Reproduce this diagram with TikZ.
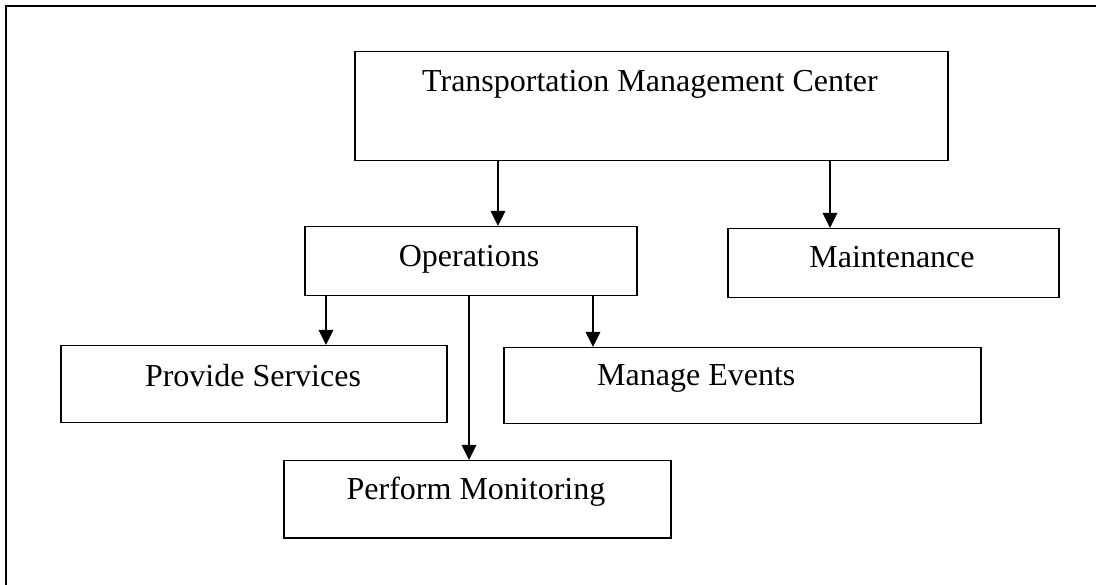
\documentclass[tikz,border=0pt]{standalone}
\usepackage{fontspec}
\setmainfont{Liberation Serif}
\usetikzlibrary{arrows.meta}
\begin{document}
\begin{tikzpicture}[x=1pt,y=-1pt,
  box/.style={draw, line width=1.5pt, inner sep=0pt, anchor=north west},
  lbl/.style={anchor=base, inner sep=0pt, font=\fontsize{32}{38}\selectfont},
  arr/.style={line width=1.3pt, -{Triangle[length=15pt,width=14.5pt]}}]
\useasboundingbox (0,0) rectangle (1096,585);
\draw[line width=2pt] (6,585) -- (6,6) -- (1096,6);
% boxes
\node[box, minimum width=593pt, minimum height=109pt] (tmc) at (354,51) {};
\node[box, minimum width=332pt, minimum height=69pt] (ops) at (304,226) {};
\node[box, minimum width=331pt, minimum height=69pt] (mnt) at (727,228) {};
\node[box, minimum width=386pt, minimum height=77pt] (prv) at (60,345) {};
\node[box, minimum width=477pt, minimum height=76pt] (mev) at (503,347) {};
\node[box, minimum width=387pt, minimum height=77pt] (pmo) at (283,460) {};
% labels
\node[lbl] (tmct) at (650,92) {Transportation Management Center};
\node[lbl] (opst) at (469,267) {Operations};
\node[lbl] (mntt) at (892,268) {Maintenance};
\node[lbl] (prvt) at (253,387) {Provide Services};
\node[lbl, anchor=base west] (mevt) at (597,386) {Manage Events};
\node[lbl] (pmot) at (476,500) {Perform Monitoring};
% connectors
\draw[arr] (tmc.south -| 498,0) -- (ops.north -| 498,0);
\draw[arr] (tmc.south -| 830,0) -- (mnt.north -| 830,0);
\draw[arr] (ops.south -| 326,0) -- (prv.north -| 326,0);
\draw[arr] (ops.south -| 469,0) -- (pmo.north -| 469,0);
\draw[arr] (ops.south -| 593,0) -- (mev.north -| 593,0);
\end{tikzpicture}
\end{document}
